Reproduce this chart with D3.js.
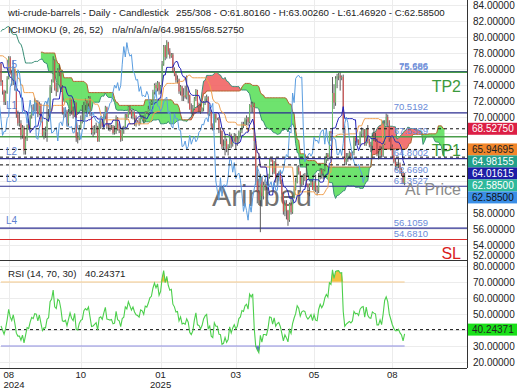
<!DOCTYPE html>
<html><head><meta charset="utf-8">
<script src="https://cdn.jsdelivr.net/npm/d3@7/dist/d3.min.js"></script>
<style>body{margin:0;background:#fff}svg{display:block;font-family:"Liberation Sans",Arial,sans-serif}</style>
</head><body><svg id="c" width="520" height="390"></svg>
<script>
// ---- DATA ----
// 51 history bars (needed for the Ichimoku/RSI look-back), then 264 visible daily bars.
const HIST = 51;
const opens = [
73.3,74.1,75.6,75.5,77.7,77.9,78.5,78.6,78.5,80.3,81.6,82.2,80.7,81.6,80.8,80.9,81.7,
81.5,83.4,82.8,83.9,83.2,82.3,81.4,82.1,82.6,82.2,81.9,80.8,82.9,82.8,80.1,79.8,77.0,77.6,78.3,77.2,75.8,74.7,
77.9,76.3,73.5,72.9,73.2,75.2,76.2,76.8,80.1,78.4,77.0,78.2,
76.7,74.4,73.2,71.9,73.0,74.8,77.4,75.5,74.5,75.9,
73.6,70.3,69.2,69.2,67.7,68.7,65.8,67.3,69.0,68.7,70.1,71.2,70.9,72.0,71.9,70.4,71.6,69.7,67.7,68.2,
68.2,69.8,70.1,73.7,74.4,77.1,73.6,73.2,75.9,75.6,73.8,70.6,70.4,70.7,69.2,70.6,72.1,70.8,70.2,71.8,67.4,67.2,68.6,
69.3,69.5,71.5,72.0,71.7,72.4,70.4,68.0,68.1,68.4,68.7,67.0,69.2,69.4,68.9,70.1,71.2,68.9,68.8,68.7,68.8,
68.0,68.1,69.9,68.5,68.3,67.2,68.4,68.6,70.3,70.0,71.3,70.7,70.1,70.6,69.9,69.5,69.4,69.2,70.1,70.0,69.6,70.6,70.5,71.0,
71.7,71.9,73.1,74.0,73.6,74.3,73.3,73.9,76.6,78.8,77.5,79.3,78.2,77.6,77.8,75.8,75.4,74.6,74.7,73.2,73.8,72.6,72.7,
72.5,73.2,72.7,71.0,70.6,71.0,72.3,73.3,71.4,71.3,70.7,71.1,71.9,72.3,72.5,70.4,70.7,68.9,68.6,70.4,
69.8,69.8,68.4,68.3,66.3,66.4,67.0,66.0,66.3,67.7,66.6,67.2,67.6,66.9,67.2,68.1,68.3,69.1,69.0,69.7,69.9,69.4,
71.5,71.2,71.7,67.0,62.0,60.7,59.6,62.4,60.1,61.5,61.5,61.3,62.5,64.7,64.6,63.1,64.3,62.3,62.8,63.0,62.1,60.4,
58.2,59.2,58.3,57.1,59.1,58.1,59.9,61.0,61.9,63.7,63.2,61.6,62.5,62.7,62.6,61.6,61.2,61.5,61.9,60.9,61.8,60.9,
60.8,62.5,63.4,62.9,63.4,64.6,65.3,65.0,68.2,68.0,73.0,71.8,74.8,75.1,75.2,74.9,75.0,68.5,64.4,64.9,65.2,65.5,
65.1,65.5,67.5,67.0,67.1,66.7,67.9,68.3,68.4,66.6,68.5,67.0,66.5,66.4,67.5,67.3,67.2,65.3,65.3,66.0,65.2,66.7,69.2,70.0,
69.3,67.3,66.3,65.2,64.4,63.9,63.9,64.1,63.4,63.0,61.8016];
const highs = [
74.4,75.9,76.1,77.9,78.1,79.0,79.1,79.2,80.5,81.7,82.4,82.3,81.9,81.9,81.2,82.0,82.4,
83.6,83.9,84.2,84.5,83.5,82.5,82.5,83.1,83.5,82.6,82.0,83.6,83.2,82.9,80.6,80.0,78.0,78.7,78.5,77.5,76.2,78.2,
79.1,76.7,74.3,74.0,75.6,76.5,77.2,80.3,80.8,79.3,78.4,78.3,
76.7,74.6,73.4,73.3,75.1,77.6,77.6,75.9,76.2,76.0,
73.8,70.8,70.5,69.6,69.0,68.9,67.5,69.1,69.6,70.3,71.5,71.6,72.4,72.1,72.1,71.9,71.7,70.0,68.5,68.8,
71.9,71.0,74.0,74.7,77.6,77.2,74.3,76.1,76.5,75.7,74.0,71.2,71.2,70.9,71.0,72.4,72.2,71.3,72.0,71.8,68.1,69.0,70.2,
71.5,71.9,72.3,72.1,72.6,72.6,70.5,68.9,69.0,69.3,68.9,69.3,69.8,69.8,70.4,71.4,71.3,69.2,69.2,69.0,69.0,
68.9,70.2,70.0,69.2,68.4,68.8,68.9,70.4,70.4,71.4,71.4,70.9,71.0,70.7,70.2,69.6,69.9,70.3,70.2,70.2,70.7,70.7,71.4,71.9,
72.1,73.4,74.2,74.3,74.5,74.4,74.0,77.0,79.0,79.0,79.6,79.4,78.6,78.0,78.0,76.2,75.6,75.2,74.8,74.0,73.9,73.6,73.9,
75.2,73.8,72.8,71.7,71.5,72.5,73.5,73.4,71.8,71.6,71.2,72.0,72.6,72.8,72.6,71.1,70.9,69.2,70.4,70.4,
69.9,70.0,68.7,68.3,67.2,67.9,67.3,66.6,68.1,67.9,67.6,68.0,67.9,67.6,68.3,68.6,69.4,69.4,69.9,70.2,70.0,71.6,
71.9,71.9,71.8,67.3,63.9,62.3,62.9,62.6,61.9,62.2,61.9,62.9,64.9,64.9,64.7,64.5,64.9,63.0,63.2,63.3,62.2,60.6,
59.6,59.6,58.4,59.3,60.1,60.2,61.3,62.4,63.9,64.0,63.2,62.7,62.9,63.0,64.2,61.7,61.7,62.0,62.1,62.0,62.8,61.4,
63.0,63.6,63.6,63.5,64.8,65.5,65.5,68.2,68.3,75.0,74.1,75.1,75.4,75.5,75.586,75.2,75.3,68.9,65.5,65.5,65.8,65.6,
65.7,67.6,67.6,67.3,67.2,68.2,68.7,68.6,68.5,68.6,69.0,67.3,66.9,67.8,68.6,68.0,67.3,65.8,66.4,66.3,67.0,69.6,70.42,70.3,
69.6,67.5,66.563,66.0,64.9,64.4,64.8,64.3,63.6,63.2,63.0026];
const lows = [
72.9,74.0,74.5,75.3,76.7,77.3,77.6,77.8,78.0,79.9,80.8,80.5,80.2,80.4,80.0,80.6,81.2,
81.3,82.3,82.6,82.9,81.9,80.9,80.8,81.8,81.8,81.1,80.2,80.6,82.0,79.9,78.7,76.9,76.6,77.0,76.9,75.4,74.6,74.5,
76.0,72.9,71.7,72.5,72.8,74.8,75.7,76.7,78.1,76.6,76.6,76.4,
73.9,72.8,71.5,71.5,72.9,74.7,75.3,73.9,74.0,73.3,
69.9,68.9,68.8,67.2,67.3,65.3,65.3,67.0,68.4,68.5,69.8,70.2,70.7,70.7,70.0,70.2,69.3,67.6,67.2,67.4,
66.9,69.4,70.0,73.0,74.3,73.3,72.6,73.1,75.1,73.4,70.3,69.9,70.0,68.8,68.9,70.1,70.3,69.8,70.0,66.9,66.7,67.1,68.4,
69.2,69.4,70.8,70.0,71.0,70.1,67.8,67.5,67.8,68.0,66.9,66.9,68.5,68.7,68.6,69.7,68.5,68.3,68.2,68.4,67.8,
67.8,67.9,68.3,68.0,66.9,67.0,67.9,68.4,69.6,69.9,70.3,69.8,69.7,68.9,68.8,69.3,68.9,69.1,69.9,69.3,69.4,70.4,70.2,70.8,
71.5,71.5,72.8,73.1,73.2,72.8,72.9,73.8,76.4,77.1,77.3,77.8,77.3,77.4,75.6,75.1,74.3,74.2,72.9,72.7,72.0,72.0,72.3,
72.2,71.7,70.9,70.4,70.2,70.9,72.0,71.2,70.6,70.4,70.6,70.7,71.5,71.8,70.2,70.1,68.6,68.3,68.4,69.3,
69.6,68.0,66.6,66.0,65.9,65.2,65.6,65.2,66.1,66.1,66.3,66.9,66.0,66.4,66.7,67.6,68.0,68.6,68.9,69.0,68.9,69.2,
70.6,70.6,65.9,61.5,59.2,59.0,55.6,58.8,59.7,60.8,60.9,60.8,62.3,64.4,62.8,62.9,61.8,61.3,62.0,61.6,60.3,57.8,
57.6,57.2,56.4,56.9,57.8,57.9,59.8,60.8,61.7,62.8,60.6,61.3,61.5,62.0,61.4,60.3,60.1,61.4,60.9,60.7,60.6,60.2,
60.5,62.2,62.3,62.2,63.2,64.2,64.5,64.8,67.0,67.9,71.0,71.4,73.6,74.6,73.3,74.6,68.0,64.0,64.0,64.4,64.8,64.6,
64.8,65.2,66.4,66.8,66.5,66.3,67.5,67.6,66.4,66.4,66.7,66.2,65.6,65.8,67.0,66.9,65.1,64.7,65.0,64.9,65.0,66.5,68.9,68.8,
66.9,65.8,64.9,64.2,63.4,63.3,63.6,62.9,62.6,61.6,61.4692];
const closes = [
74.1,75.6,75.5,77.7,77.9,78.5,78.6,78.5,80.3,81.6,82.2,80.7,81.6,80.8,80.9,81.7,81.5,
83.4,82.8,83.9,83.2,82.3,81.4,82.1,82.6,82.2,81.9,80.8,82.9,82.8,80.1,79.8,77.0,77.6,78.3,77.2,75.8,74.7,77.9,
76.3,73.5,72.9,73.2,75.2,76.2,76.8,80.1,78.4,77.0,78.2,76.7,
74.4,73.2,71.9,73.0,74.8,77.4,75.5,74.5,75.9,73.6,
70.3,69.2,69.2,67.7,68.7,65.8,67.3,69.0,68.7,70.1,71.2,70.9,72.0,71.9,70.4,71.6,69.7,67.7,68.2,68.2,
69.8,70.1,73.7,74.4,77.1,73.6,73.2,75.9,75.6,73.8,70.6,70.4,70.7,69.2,70.6,72.1,70.8,70.2,71.8,67.4,67.2,68.6,69.3,
69.5,71.5,72.0,71.7,72.4,70.4,68.0,68.1,68.4,68.7,67.0,69.2,69.4,68.9,70.1,71.2,68.9,68.8,68.7,68.8,68.0,
68.1,69.9,68.5,68.3,67.2,68.4,68.6,70.3,70.0,71.3,70.7,70.1,70.6,69.9,69.5,69.4,69.2,70.1,70.0,69.6,70.6,70.5,71.0,71.7,
71.9,73.1,74.0,73.6,74.3,73.3,73.9,76.6,78.8,77.5,79.3,78.2,77.6,77.8,75.8,75.4,74.6,74.7,73.2,73.8,72.6,72.7,72.5,
73.2,72.7,71.0,70.6,71.0,72.3,73.3,71.4,71.3,70.7,71.1,71.9,72.3,72.5,70.4,70.7,68.9,68.6,70.4,69.8,
69.8,68.4,68.3,66.3,66.4,67.0,66.0,66.3,67.7,66.6,67.2,67.6,66.9,67.2,68.1,68.3,69.1,69.0,69.7,69.9,69.4,71.5,
71.2,71.7,67.0,62.0,60.7,59.6,62.4,60.1,61.5,61.5,61.3,62.5,64.7,64.6,63.1,64.3,62.3,62.8,63.0,62.1,60.4,58.2,
59.2,58.3,57.1,59.1,58.1,59.9,61.0,61.9,63.7,63.2,61.6,62.5,62.7,62.6,61.6,61.2,61.5,61.9,60.9,61.8,60.9,60.8,
62.5,63.4,62.9,63.4,64.6,65.3,65.0,68.2,68.0,73.0,71.8,74.8,75.1,75.2,74.9,75.0,68.5,64.4,64.9,65.2,65.5,65.1,
65.5,67.5,67.0,67.1,66.7,67.9,68.3,68.4,66.6,68.5,67.0,66.5,66.4,67.5,67.3,67.2,65.3,65.3,66.0,65.2,66.7,69.2,70.0,69.3,
67.3,66.3,65.2,64.4,63.9,63.9,64.1,63.4,63.0,61.8,62.585];

const priceTicks = [52,54,56,58,60,62,64,66,68,70,72,74,76,78,80,82,84];
const rsiTicks = [20,30,40,50,60,70,80];
const xTickBars = [5,52,104,153,204,255];          // visible-bar index of each date tick
const xTickMonths = ["08","10","01","03","05","08"];
const xTickYears = ["2024","","2025","","",""];

const levelNames  = ["L5","TP2","L1","TP1","L2","L3","L4","SL"];
const levelValues = [75.686,75.585,70.5192,67.5359,64.8002,61.3527,56.1059,54.681];
const levelTexts  = ["75.686","75.585","70.5192","67.5359","64.8002","61.3527","56.1059","54.6810"];
const atPriceValue = 62.669, atPriceText = "62.6690";

const lastValues = [68.5275,65.94695,64.98155,64.01615,62.585,62.585];
const lastTexts  = ["68.52750","65.94695","64.98155","64.01615","62.58500","62.58500"];
const rsiLast = 40.24371;

// ---- CHART ----
const N = closes.length;
const svg = d3.select("#c");
const PR = 467, MB = 260, RB = 368;
const x = d3.scaleLinear().domain([HIST, HIST + 303]).range([1, 466]);
const y = d3.scaleLinear().domain([52.125, 84.625]).range([MB, 0]);
const yr = d3.scaleLinear().domain([16.25, 83.75]).range([RB, MB]);

const defs = svg.append("defs");
defs.append("clipPath").attr("id","cm").append("rect").attr("x",0).attr("y",0).attr("width",PR).attr("height",MB);
defs.append("clipPath").attr("id","cr").append("rect").attr("x",0).attr("y",MB).attr("width",PR).attr("height",RB-MB);

// grid
const grid = svg.append("g").attr("stroke","#ececec").attr("stroke-width",1);
grid.selectAll("line.h").data(priceTicks.filter(v=>y(v)>0&&y(v)<MB)).join("line")
  .attr("x1",0).attr("x2",PR).attr("y1",d=>Math.round(y(d))+0.5).attr("y2",d=>Math.round(y(d))+0.5);
grid.selectAll("line.r").data(rsiTicks).join("line")
  .attr("x1",0).attr("x2",PR).attr("y1",d=>Math.round(yr(d))+0.5).attr("y2",d=>Math.round(yr(d))+0.5);
grid.selectAll("line.v").data(xTickBars).join("line")
  .attr("x1",d=>Math.round(x(HIST+d))+0.5).attr("x2",d=>Math.round(x(HIST+d))+0.5).attr("y1",0).attr("y2",RB);

// Ichimoku
function mid(i,n){ if(i-n+1<0) return null; let hh=-Infinity,ll=Infinity;
  for(let j=i-n+1;j<=i;j++){hh=Math.max(hh,highs[j]);ll=Math.min(ll,lows[j]);} return (hh+ll)/2; }
const tenkan = d3.range(N).map(i=>mid(i,9));
const kijun = d3.range(N).map(i=>mid(i,26));
const spanA = [], spanB = [];
for(let i=0;i<N;i++){
  if(tenkan[i]!=null && kijun[i]!=null) spanA.push({i:i+26, v:(tenkan[i]+kijun[i])/2});
}
for(let i=0;i<N;i++){ const b=mid(i,52); if(b!=null) spanB.push({i:i+26, v:b}); }
const bMap = new Map(spanB.map(d=>[d.i,d.v]));
const cloud = spanA.filter(d=>bMap.has(d.i)).map(d=>({i:d.i,a:d.v,b:bMap.get(d.i)}));

const gm = svg.append("g").attr("clip-path","url(#cm)");
gm.append("path").datum(cloud).attr("fill","#5ee05e").attr("fill-opacity",0.9)
  .attr("d", d3.area().x(d=>x(d.i)).y0(d=>y(d.a)).y1(d=>y(Math.max(d.a,d.b))));
gm.append("path").datum(cloud).attr("fill","#f26464").attr("fill-opacity",0.9)
  .attr("d", d3.area().x(d=>x(d.i)).y0(d=>y(d.b)).y1(d=>y(Math.max(d.a,d.b))));

// watermark
gm.append("text").attr("x",212).attr("y",206).attr("font-size",29).attr("fill","#444").attr("fill-opacity",0.75)
  .text("Arinbeu");

const line = d3.line().x(d=>x(d.i)).y(d=>y(d.v));
gm.append("path").datum(spanA).attr("fill","none").attr("stroke","#3a8f78").attr("stroke-width",1).attr("d",line);
gm.append("path").datum(spanB).attr("fill","none").attr("stroke","#b0642e").attr("stroke-width",1).attr("d",line);

// level lines
const levelColor = n => n.startsWith("TP") ? "#4a9d4a" : (n==="SL" ? "#d92b2b" : "#2b2d8f");
gm.selectAll("line.lv").data(levelValues).join("line")
  .attr("x1",0).attr("x2",PR).attr("y1",d=>y(d)).attr("y2",d=>y(d))
  .attr("stroke",(d,k)=>levelColor(levelNames[k])).attr("stroke-width",(d,k)=>levelNames[k].startsWith("TP")?1.6:1.1);

// candles
const vis = d3.range(HIST, N);
gm.selectAll("line.wk").data(vis).join("line")
  .attr("x1",i=>x(i)).attr("x2",i=>x(i)).attr("y1",i=>y(highs[i])).attr("y2",i=>y(lows[i]))
  .attr("stroke","#4a4a4a").attr("stroke-width",0.9);
gm.selectAll("rect.bd").data(vis).join("rect")
  .attr("x",i=>x(i)-0.5).attr("width",1)
  .attr("y",i=>y(Math.max(opens[i],closes[i]))).attr("height",i=>Math.max(0.8,Math.abs(y(opens[i])-y(closes[i]))))
  .attr("fill",i=>closes[i]>=opens[i]?"#6fbf6f":"#e05050");

// tenkan / kijun / chikou
const ser = arr => arr.map((v,i)=>({i,v})).filter(d=>d.v!=null);
gm.append("path").datum(ser(kijun)).attr("fill","none").attr("stroke","#f0a050").attr("stroke-width",1).attr("d",line);
gm.append("path").datum(ser(tenkan)).attr("fill","none").attr("stroke","#2323b8").attr("stroke-width",1).attr("d",line);
gm.append("path").datum(closes.map((v,i)=>({i:i-26,v}))).attr("fill","none").attr("stroke","#5a9de0").attr("stroke-width",1).attr("d",line);

// dashed last-value lines
gm.selectAll("line.ds").data(lastValues).join("line")
  .attr("x1",0).attr("x2",PR).attr("y1",d=>y(d)).attr("y2",d=>y(d))
  .attr("stroke","#111").attr("stroke-width",1).attr("stroke-dasharray","3,3");

// level labels
gm.selectAll("text.lr").data(levelValues).join("text")
  .attr("x",428).attr("y",d=>y(d)-2.5).attr("text-anchor","end").attr("font-size",9.5).attr("fill","#6a8bd8")
  .text((d,k)=>levelTexts[k]);
gm.append("text").attr("x",428).attr("y",y(atPriceValue)-2.5).attr("text-anchor","end").attr("font-size",9.5)
  .attr("fill","#6a8bd8").text(atPriceText);
gm.selectAll("text.ll").data(levelValues.filter((d,k)=>levelNames[k].startsWith("L"))).join("text")
  .attr("x",6).attr("y",d=>y(d)-4).attr("font-size",10).attr("fill","#5f7fd0")
  .text(d=>levelNames[levelValues.indexOf(d)]);
const big = [["TP2",levelValues[1],"#3c9a3c"],["TP1",levelValues[3],"#3c9a3c"],["SL",levelValues[7],"#d92020"],["At Price",atPriceValue,"#8a8a8a"]];
gm.selectAll("text.big").data(big).join("text")
  .attr("x",461).attr("y",d=>y(d[1])+19.5).attr("text-anchor","end").attr("font-size",16).attr("fill",d=>d[2]).text(d=>d[0]);

// RSI
const rsi=new Array(N).fill(null);
let ag=0, al=0;
for(let i=1;i<N;i++){
  const ch=closes[i]-closes[i-1], g=Math.max(ch,0), l=Math.max(-ch,0);
  if(i<=14){ ag+=g/14; al+=l/14; if(i===14) rsi[i]=100-100/(1+ag/al); }
  else { ag=(ag*13+g)/14; al=(al*13+l)/14; rsi[i]=100-100/(1+ag/al); }
}
const rs = vis.map(i=>({i,v:rsi[i]}));
const gr = svg.append("g").attr("clip-path","url(#cr)");
gr.append("path").datum(rs).attr("fill","#f3c040")
  .attr("d",d3.area().x(d=>x(d.i)).y0(yr(70)).y1(d=>yr(Math.max(d.v,70))));
gr.append("path").datum(rs).attr("fill","#6464d6")
  .attr("d",d3.area().x(d=>x(d.i)).y0(yr(30)).y1(d=>yr(Math.min(d.v,30))));
gr.append("line").attr("x1",x(HIST)).attr("x2",x(N-1)).attr("y1",yr(70)).attr("y2",yr(70)).attr("stroke","#f5c98a").attr("stroke-width",1.2);
gr.append("line").attr("x1",x(HIST)).attr("x2",x(N-1)).attr("y1",yr(30)).attr("y2",yr(30)).attr("stroke","#8c8ce0").attr("stroke-width",1.2);
gr.append("line").attr("x1",0).attr("x2",PR).attr("y1",yr(rsiLast)).attr("y2",yr(rsiLast)).attr("stroke","#111").attr("stroke-dasharray","3,3");
gr.append("path").datum(rs).attr("fill","none").attr("stroke","#4ccf4c").attr("stroke-width",1.1)
  .attr("d",d3.line().x(d=>x(d.i)).y(d=>yr(d.v)));

// frame
svg.append("line").attr("x1",PR+0.5).attr("x2",PR+0.5).attr("y1",0).attr("y2",RB).attr("stroke","#333");
svg.append("line").attr("x1",0).attr("x2",PR).attr("y1",MB+0.5).attr("y2",MB+0.5).attr("stroke","#333");
svg.append("line").attr("x1",0).attr("x2",PR).attr("y1",RB+0.5).attr("y2",RB+0.5).attr("stroke","#333");

// last-value box positions (stacked downward to avoid overlap)
let prev = -1e9; const boxY = lastValues.map(v=>{ let c=Math.max(y(v), prev+12); prev=c; return c; });
const covered = (py) => boxY.some(c=>Math.abs(c-py)<11);

// axes (labels hidden behind the value boxes are left out, as in the picture)
const ax = svg.append("g").attr("transform",`translate(${PR},0)`)
  .call(d3.axisRight(y).tickValues(priceTicks.filter(v=>!covered(y(v)))).tickSize(0).tickPadding(6).tickFormat(d3.format(".5f")));
ax.select(".domain").remove();
ax.selectAll("text").attr("font-size",10).attr("fill","#222").attr("font-family","Liberation Sans, Arial, sans-serif");
ax.selectAll(".tick").filter(d=>d===52).attr("transform",`translate(0,${MB-4})`);
const axr = svg.append("g").attr("transform",`translate(${PR},0)`)
  .call(d3.axisRight(yr).tickValues(rsiTicks.filter(v=>Math.abs(yr(v)-yr(rsiLast))>11)).tickSize(0).tickPadding(6).tickFormat(d3.format(".5f")));
axr.select(".domain").remove();
axr.selectAll("text").attr("font-size",10).attr("fill","#222").attr("font-family","Liberation Sans, Arial, sans-serif");

// last-value boxes
const boxCols = ["#dc1f45","#f2862a","#22a08a","#1c1ca6","#2fb99c","#3a8ee6"];
const boxText = ["#fff","#222","#fff","#fff","#fff","#111"];
const bx = svg.append("g");
bx.selectAll("rect").data(lastValues).join("rect").attr("x",PR+1).attr("y",(d,k)=>boxY[k]-6).attr("width",49).attr("height",12)
  .attr("fill",(d,k)=>boxCols[k]);
bx.selectAll("text").data(lastValues).join("text").attr("x",PR+5).attr("y",(d,k)=>boxY[k]+3.6).attr("font-size",10)
  .attr("fill",(d,k)=>boxText[k]).text((d,k)=>lastTexts[k]);
svg.append("rect").attr("x",PR+1).attr("y",yr(rsiLast)-6).attr("width",49).attr("height",12).attr("fill","#19e019");
svg.append("text").attr("x",PR+5).attr("y",yr(rsiLast)+3.6).attr("font-size",10).attr("fill","#222").text(rsiLast.toFixed(5));

// date axis
const xt = svg.append("g").attr("font-size",9.5).attr("fill","#222");
xt.selectAll("text.m").data(xTickBars).join("text").attr("x",d=>x(HIST+d)).attr("y",377.5).attr("text-anchor","middle").text((d,k)=>xTickMonths[k]);
xt.selectAll("text.yv").data(xTickBars.filter((d,k)=>xTickYears[k])).join("text")
  .attr("x",d=>Math.max(14,x(HIST+d))).attr("y",388).attr("text-anchor","middle")
  .text(d=>xTickYears[xTickBars.indexOf(d)]);

// titles
const t = svg.append("g").attr("font-size",9.7).attr("fill","#222");
t.append("text").attr("x",8).attr("y",16).text("wti-crude-barrels - Daily - Candlestick");
t.append("text").attr("x",176).attr("y",16).text("255/308 - O:61.80160 - H:63.00260 - L:61.46920 - C:62.58500");
t.append("text").attr("x",8).attr("y",33).text("ICHIMOKU (9, 26, 52)");
t.append("text").attr("x",112).attr("y",33).text("n/a/n/a/n/a/64.98155/68.52750");
t.append("text").attr("x",8).attr("y",277).text("RSI (14, 70, 30)");
t.append("text").attr("x",85).attr("y",277).text(rsiLast.toFixed(5));
</script></body></html>
